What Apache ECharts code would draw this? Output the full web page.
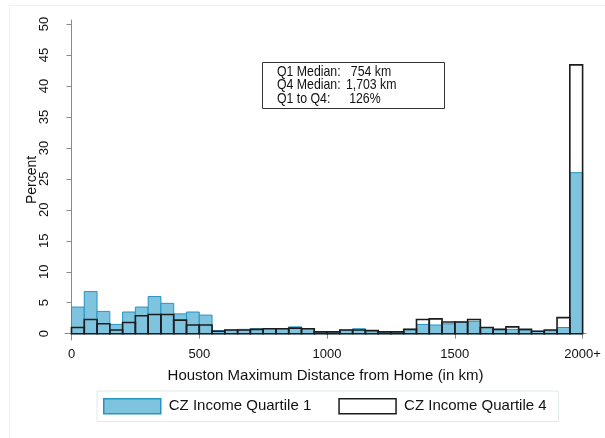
<!DOCTYPE html>
<html>
<head>
<meta charset="utf-8">
<script src="https://cdn.jsdelivr.net/npm/echarts@6/dist/echarts.min.js"></script>
<style>
  html, body { margin: 0; padding: 0; background: #fff; }
  #chart { width: 605px; height: 438px; }
</style>
</head>
<body>
<div id="chart"></div>
<script>
// Histogram of maximum travel distance (50 km bins, last bin is 2000+)
const binWidth = 50;
const binStarts = [
  0, 50, 100, 150, 200, 250, 300, 350, 400, 450,
  500, 550, 600, 650, 700, 750, 800, 850, 900, 950,
  1000, 1050, 1100, 1150, 1200, 1250, 1300, 1350, 1400, 1450,
  1500, 1550, 1600, 1650, 1700, 1750, 1800, 1850, 1900, 1950
];
// Percent of people in each bin
const quartile1 = [
  4.3, 6.8, 3.6, 1.5, 3.5, 4.3, 6.0, 4.9, 3.2, 3.5,
  3.0, 0.5, 0.6, 0.7, 0.8, 0.8, 0.8, 1.1, 0.8, 0.3,
  0.3, 0.6, 0.8, 0.5, 0.3, 0.3, 0.7, 1.5, 1.4, 1.6,
  1.9, 2.0, 1.0, 0.7, 0.7, 0.6, 0.4, 0.5, 1.0, 26.0
];
const quartile4 = [
  1.0, 2.3, 1.6, 0.6, 1.8, 2.9, 3.1, 3.1, 2.2, 1.4,
  1.4, 0.4, 0.6, 0.6, 0.7, 0.8, 0.8, 0.9, 0.8, 0.3,
  0.3, 0.6, 0.6, 0.5, 0.3, 0.3, 0.7, 2.3, 2.4, 1.9,
  1.9, 2.3, 1.0, 0.7, 1.1, 0.7, 0.4, 0.6, 2.6, 43.4
];
const xTicks = [0, 500, 1000, 1500, 2000];
const yTicks = [0, 5, 10, 15, 20, 25, 30, 35, 40, 45, 50];
const seriesNames = ['CZ Income Quartile 1', 'CZ Income Quartile 4'];
const statLabels = ['Q1 Median:', 'Q4 Median:', 'Q1 to Q4:'];
const statValues = ['754 km', '1,703 km', '126%'];

const FONT = '"Liberation Sans", Arial, sans-serif';
const Q1_FILL = '#7fc4de';
const Q1_EDGE = '#2494c4';
const Q4_EDGE = '#1c1c1c';

function binData(values) {
  return values.map((v, i) => [binStarts[i], binStarts[i] + binWidth, v]);
}

function histRenderer(fill, stroke, lineWidth) {
  return function (params, api) {
    const p0 = api.coord([api.value(0), 0]);
    const p1 = api.coord([api.value(1), api.value(2)]);
    return {
      type: 'rect',
      shape: { x: p0[0], y: p1[1], width: p1[0] - p0[0], height: p0[1] - p1[1] },
      style: { fill: fill, stroke: stroke, lineWidth: lineWidth }
    };
  };
}

const chart = echarts.init(document.getElementById('chart'), null, { renderer: 'canvas' });

// Summary box text: condensed sans, label column plus value column
const STAT_SCALE = 0.82;
const statValueX = [90, 84, 88];
const statText = [];
statLabels.forEach((s, i) => {
  statText.push({
    type: 'text', x: 0, y: i * 13.5, z: 20,
    style: { text: s, font: '15px ' + FONT, fill: '#111' }
  });
  statText.push({
    type: 'text', x: statValueX[i], y: i * 13.5, z: 20,
    style: { text: statValues[i], font: '15px ' + FONT, fill: '#111' }
  });
});

chart.setOption({
  animation: false,
  backgroundColor: '#fff',
  textStyle: { fontFamily: FONT },
  grid: { left: 65, right: 19, top: 20, bottom: 98, containLabel: false },
  xAxis: {
    type: 'value',
    min: -25.4, max: 2013.3,
    name: 'Houston Maximum Distance from Home (in km)',
    nameLocation: 'middle', nameGap: 28, nameMoveOverlap: false,
    nameTextStyle: { fontSize: 15, color: '#111', fontFamily: FONT },
    axisLine: { show: true, lineStyle: { color: '#8a8a8a', width: 1 } },
    axisTick: { show: true, length: 5, customValues: xTicks, lineStyle: { color: '#8a8a8a' } },
    axisLabel: {
      customValues: xTicks, fontSize: 13, color: '#111', margin: 8, fontFamily: FONT,
      formatter: v => (v === 2000 ? '2000+' : String(v))
    },
    splitLine: { show: false }
  },
  yAxis: {
    type: 'value',
    min: -1.017, max: 50.65,
    name: 'Percent',
    nameLocation: 'middle', nameGap: 26, nameMoveOverlap: false,
    nameTextStyle: { fontSize: 14, color: '#111', fontFamily: FONT },
    axisLine: { show: true, lineStyle: { color: '#8a8a8a', width: 1 } },
    axisTick: { show: true, length: 5, customValues: yTicks, lineStyle: { color: '#8a8a8a' } },
    axisLabel: { customValues: yTicks, rotate: 90, fontSize: 13, color: '#111', margin: 14, fontFamily: FONT },
    splitLine: { show: false }
  },
  legend: {
    left: 97, top: 391,
    padding: [7, 12, 7, 6],
    itemWidth: 57, itemHeight: 15, itemGap: 27,
    borderColor: '#dfe8eb', borderWidth: 1, backgroundColor: '#fff',
    textStyle: { fontSize: 15, color: '#111', fontFamily: FONT, padding: [0, 0, 0, 3] },
    data: [
      { name: seriesNames[0], icon: 'rect', itemStyle: { color: Q1_FILL, borderColor: Q1_EDGE, borderWidth: 1.5 } },
      { name: seriesNames[1], icon: 'rect', itemStyle: { color: '#fff', borderColor: Q4_EDGE, borderWidth: 1.5 } }
    ]
  },
  series: [
    {
      name: seriesNames[0], type: 'custom',
      renderItem: histRenderer(Q1_FILL, Q1_EDGE, 1),
      encode: { x: [0, 1], y: 2 },
      itemStyle: { color: Q1_FILL, borderColor: Q1_EDGE },
      data: binData(quartile1), z: 2
    },
    {
      name: seriesNames[1], type: 'custom',
      renderItem: histRenderer('rgba(0,0,0,0)', Q4_EDGE, 1.6),
      encode: { x: [0, 1], y: 2 },
      itemStyle: { color: '#fff', borderColor: Q4_EDGE },
      data: binData(quartile4), z: 3
    }
  ],
  graphic: [
    {
      type: 'rect', left: 7, top: 3, z: 0, silent: true,
      shape: { width: 596, height: 433 },
      style: { fill: 'none', stroke: '#eef2f3', lineWidth: 1 }
    },
    {
      type: 'rect', left: 262, top: 62, z: 10,
      shape: { width: 182, height: 46 },
      style: { fill: '#fff', stroke: '#333', lineWidth: 1 }
    },
    {
      type: 'group', x: 277, y: 64, scaleX: STAT_SCALE, z: 20,
      children: statText
    }
  ]
});
</script>
</body>
</html>
